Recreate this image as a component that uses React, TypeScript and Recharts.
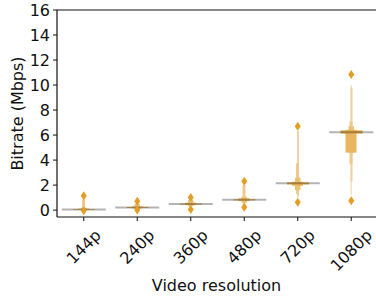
import React from 'react';
import { ComposedChart, Bar, Scatter, XAxis, YAxis, ReferenceLine } from 'recharts';

const resolutions = ['144p', '240p', '360p', '480p', '720p', '1080p'];
const medians = [0.05, 0.2, 0.48, 0.82, 2.14, 6.22];

// letter-value boxes, innermost (widest) first
const level0 = [[0.03, 0.09], [0.17, 0.24], [0.44, 0.52], [0.78, 0.87], [2.05, 2.22], [6.12, 6.38]];
const level1 = [[0.02, 0.12], [0.13, 0.3], [0.4, 0.6], [0.72, 0.95], [1.95, 2.27], [4.6, 6.42]];
const level2 = [[0.01, 0.2], [0.08, 0.48], [0.33, 0.8], [0.6, 1.07], [1.6, 2.59], [4.6, 6.7]];
const level3 = [[0.0, 0.86], [0.05, 0.55], [0.25, 0.85], [0.5, 2.0], [1.3, 3.74], [3.7, 7.1]];
const level4 = [null, null, null, null, [1.06, 6.33], [2.27, 9.8]];
const level5 = [null, null, null, null, null, [1.2, 10.0]];

const outHigh = [1.15, 0.7, 1.0, 2.3, 6.7, 10.85];
const outLow = [-0.05, 0.0, 0.05, 0.22, 0.62, 0.75];

const yTicks = [0, 2, 4, 6, 8, 10, 12, 14, 16];

const levels = [level0, level1, level2, level3, level4, level5];
const levelWidths = [22, 11, 5.5, 3, 2, 1.5];
const levelColors = ['#E6AE4C', '#E8B65E', '#EBC077', '#EEC98A', '#F0D3A2', '#F4E2C2'];

const data = resolutions.map((res, i) => {
  const row: any = { res, median: medians[i], hi: outHigh[i], lo: outLow[i] };
  levels.forEach((lv, k) => {
    row[`l${k}`] = lv[i];
  });
  return row;
});

const FONT = 'DejaVu Sans';
const INK = '#111';

const BoxShape = (props: any) => {
  const { x, y, width, height, fill, payload, dataKey } = props;
  if (payload == null || payload[dataKey] == null) return null;
  if (!Number.isFinite(y) || !Number.isFinite(height)) return null;
  const top = Math.min(y, y + height);
  return <rect x={x} y={top} width={width} height={Math.abs(height)} fill={fill} />;
};

const MedianLine = (props: any) => {
  const { cx, cy } = props;
  if (!Number.isFinite(cx) || !Number.isFinite(cy)) return null;
  return (
    <line x1={cx - 22} x2={cx + 22} y1={cy} y2={cy} stroke="#262626" strokeOpacity={0.35} strokeWidth={2} />
  );
};

const Diamond = (props: any) => {
  const { cx, cy } = props;
  if (!Number.isFinite(cx) || !Number.isFinite(cy)) return null;
  const pts = `${cx},${cy - 4.5} ${cx + 3},${cy} ${cx},${cy + 4.5} ${cx - 3},${cy}`;
  return <polygon points={pts} fill="#E39E24" />;
};

const XTick = (props: any) => {
  const { x, y, payload } = props;
  const label = String(payload.value);
  const w = label.length * 10.2;
  const off = 3 + (w + 18) * 0.3536;
  return (
    <g transform={`translate(${x},${y + off})`}>
      <text
        textAnchor="middle"
        dominantBaseline="central"
        transform="rotate(-45)"
        fontSize={16}
        fontFamily={FONT}
        fill={INK}
      >
        {label}
      </text>
    </g>
  );
};

const YLabel = (props: any) => {
  const { viewBox } = props;
  const cx = viewBox.x + 17;
  const cy = viewBox.y + viewBox.height / 2;
  return (
    <text
      x={cx}
      y={cy}
      transform={`rotate(-90, ${cx}, ${cy})`}
      textAnchor="middle"
      dominantBaseline="central"
      fontSize={16}
      fontFamily={FONT}
      fill={INK}
    >
      Bitrate (Mbps)
    </text>
  );
};

const XLabel = (props: any) => {
  const { viewBox } = props;
  return (
    <text
      x={viewBox.x + viewBox.width / 2 - 1}
      y={viewBox.y + 74}
      textAnchor="middle"
      fontSize={16}
      fontFamily={FONT}
      fill={INK}
    >
      Video resolution
    </text>
  );
};

const App: React.FC = () => {
  return (
    <div style={{ position: 'absolute', left: 0, top: 0, width: 376, height: 299, overflow: 'hidden', background: '#fff' }}>
      <ComposedChart width={378} height={299} data={data} margin={{ top: 10, right: 0, bottom: 0, left: 0 }}>
        <XAxis
          xAxisId="main"
          dataKey="res"
          height={82}
          tickSize={4}
          tickLine={{ stroke: INK }}
          axisLine={{ stroke: INK, strokeWidth: 1.2 }}
          tick={<XTick />}
          interval={0}
          label={<XLabel />}
        />
        {levels.map((_, k) => (
          <XAxis key={`ax${k}`} xAxisId={`l${k}`} dataKey="res" orientation="top" height={0} hide />
        ))}
        <YAxis
          type="number"
          domain={[-0.55, 16]}
          ticks={yTicks}
          allowDataOverflow
          width={57}
          tickSize={4}
          tickMargin={3}
          tickLine={{ stroke: INK }}
          axisLine={{ stroke: INK, strokeWidth: 1.2 }}
          tick={{ fontSize: 16, fontFamily: FONT, fill: INK }}
          label={<YLabel />}
        />
        <ReferenceLine xAxisId="main" y={16} stroke={INK} strokeWidth={1.2} />
        {[5, 4, 3, 2, 1, 0].map((k) => (
          <Bar
            key={`bar${k}`}
            xAxisId={`l${k}`}
            dataKey={`l${k}`}
            barSize={levelWidths[k]}
            fill={levelColors[k]}
            shape={<BoxShape />}
            isAnimationActive={false}
          />
        ))}
        <Scatter xAxisId="main" dataKey="median" shape={<MedianLine />} isAnimationActive={false} />
        <Scatter xAxisId="main" dataKey="hi" shape={<Diamond />} isAnimationActive={false} />
        <Scatter xAxisId="main" dataKey="lo" shape={<Diamond />} isAnimationActive={false} />
      </ComposedChart>
    </div>
  );
};

export default App;
